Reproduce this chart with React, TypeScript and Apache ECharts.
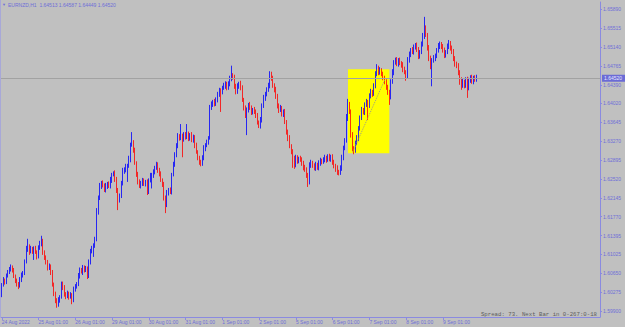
import React, { useEffect, useRef } from "react";
import * as echarts from "echarts";

// ---- data ----
const firstOpen = 1.6025;
const closes = [
  1.6041,1.6051,1.6047,1.6059,1.6067,1.6071,1.6077,1.6071,1.6059,1.6051,
  1.6043,1.6039,1.6051,1.6061,1.6065,1.6087,1.6111,1.6117,1.6107,1.6113,
  1.6109,1.6113,1.6107,1.6097,1.6115,1.6123,1.6129,1.6107,1.6095,1.6087,
  1.6075,1.6079,1.6067,1.6043,1.6023,1.6011,1.6002,1.6011,1.6017,1.6043,
  1.6035,1.6023,1.6019,1.6025,1.6017,1.6021,1.6011,1.6033,1.6037,1.6043,
  1.6059,1.6071,1.6067,1.6075,1.6071,1.6075,1.6059,1.6087,1.6107,1.6115,
  1.6119,1.6131,1.6186,1.6214,1.6238,1.6244,1.6240,1.6230,1.6238,1.6242,
  1.6238,1.6250,1.6260,1.6264,1.6250,1.6230,1.6210,1.6218,1.6242,1.6266,
  1.6270,1.6276,1.6278,1.6290,1.6319,1.6325,1.6309,1.6284,1.6262,1.6246,
  1.6238,1.6244,1.6248,1.6242,1.6246,1.6226,1.6250,1.6258,1.6260,1.6266,
  1.6274,1.6280,1.6270,1.6262,1.6250,1.6242,1.6214,1.6200,1.6224,1.6230,
  1.6226,1.6260,1.6280,1.6300,1.6319,1.6335,1.6333,1.6337,1.6331,1.6339,
  1.6335,1.6341,1.6333,1.6339,1.6329,1.6335,1.6319,1.6306,1.6294,1.6286,
  1.6282,1.6294,1.6313,1.6319,1.6325,1.6333,1.6393,1.6401,1.6405,1.6401,
  1.6409,1.6421,1.6427,1.6425,1.6433,1.6437,1.6441,1.6433,1.6441,1.6451,
  1.6457,1.6453,1.6437,1.6425,1.6437,1.6441,1.6433,1.6409,1.6393,1.6379,
  1.6389,1.6399,1.6393,1.6385,1.6389,1.6385,1.6379,1.6365,1.6357,1.6369,
  1.6397,1.6413,1.6421,1.6429,1.6437,1.6460,1.6453,1.6437,1.6429,1.6417,
  1.6397,1.6389,1.6393,1.6381,1.6385,1.6365,1.6345,1.6333,1.6317,1.6306,
  1.6294,1.6290,1.6294,1.6288,1.6292,1.6290,1.6284,1.6274,1.6270,1.6260,
  1.6246,1.6280,1.6284,1.6278,1.6274,1.6280,1.6274,1.6284,1.6288,1.6286,
  1.6290,1.6294,1.6290,1.6296,1.6292,1.6296,1.6284,1.6278,1.6274,1.6266,
  1.6264,1.6274,1.6294,1.6313,1.6329,1.6373,1.6401,1.6385,1.6339,1.6313,
  1.6309,1.6323,1.6333,1.6353,1.6373,1.6389,1.6385,1.6399,1.6405,1.6397,
  1.6417,1.6425,1.6421,1.6437,1.6460,1.6472,1.6464,1.6468,1.6460,1.6453,
  1.6445,1.6433,1.6425,1.6415,1.6445,1.6464,1.6484,1.6488,1.6480,1.6488,
  1.6482,1.6478,1.6470,1.6464,1.6455,1.6488,1.6500,1.6508,1.6504,1.6514,
  1.6518,1.6508,1.6496,1.6504,1.6520,1.6536,1.6552,1.6538,1.6512,1.6492,
  1.6476,1.6488,1.6492,1.6496,1.6508,1.6516,1.6520,1.6514,1.6508,1.6498,
  1.6504,1.6516,1.6522,1.6512,1.6504,1.6492,1.6480,1.6476,1.6464,1.6449,
  1.6439,1.6445,1.6437,1.6449,1.6433,1.6449,1.6453,1.6445,1.6453,1.6451,1.6452,
];
// wick lengths in pips (0.0001)
const upperWicks = [
  4,6,3,5,4,6,5,3,4,3, 3,4,6,5,4,5,8,16,5,6, 4,5,6,3,5,6,10,4,3,5,
  4,5,3,4,3,5,4,6,4,5, 5,6,4,5,3,6,4,5,6,4, 6,5,4,6,5,4,3,5,6,4,
  5,6,8,5,6,4,5,3,6,4, 5,6,4,3,5,6,4,5,6,8, 5,6,4,8,5,20,4,5,3,4,
  5,4,6,5,4,5,3,6,4,5, 4,6,5,4,5,3,4,5,6,4, 5,4,6,5,4,8,6,24,5,6,
  6,20,5,4,6,5,4,5,3,4, 4,5,6,4,5,4,6,5,4,6, 5,4,6,5,4,6,5,4,5,6,
  20,5,6,4,5,4,6,5,4,5, 5,4,6,5,4,6,5,4,3,6, 5,6,4,5,6,6,5,4,5,6,
  4,5,6,4,5,6,4,5,6,4, 5,4,6,5,4,6,5,4,6,5, 4,5,6,4,5,6,4,5,6,4,
  5,6,4,5,6,4,5,6,4,5, 4,5,6,5,4,8,10,4,5,6, 4,5,6,4,5,6,4,5,6,4,
  5,6,4,5,6,8,5,6,4,5, 4,5,6,4,5,6,4,5,6,4, 5,4,6,5,4,6,5,4,6,5,
  4,5,6,4,5,6,22,5,4,6, 5,4,6,5,4,6,5,4,6,5, 4,5,6,4,5,6,4,5,6,4,
  5,6,4,5,6,4,5,6,4,5,7,
];
const lowerWicks = [
  8,3,5,4,3,4,3,5,4,6, 5,6,3,4,5,4,3,4,6,3, 6,18,4,5,3,4,5,6,4,5,
  5,4,6,5,4,6,6,4,5,3, 4,5,6,4,5,3,8,4,5,3, 4,5,3,6,5,4,6,4,5,3,
  18,4,3,5,4,6,5,4,5,6, 4,5,6,3,4,6,20,5,4,3, 4,5,30,4,5,3,5,4,6,5,
  4,5,6,4,5,6,4,5,25,6, 5,4,6,5,4,6,5,16,4,5, 4,5,3,4,5,6,5,4,36,5,
  5,4,6,5,4,5,6,4,5,6, 5,4,5,6,4,5,3,4,6,5, 4,5,6,40,5,4,6,5,4,5,
  5,4,6,5,4,6,5,4,5,6, 40,5,4,6,5,4,6,5,4,5, 5,4,6,5,4,5,6,4,5,6,
  5,6,4,5,6,4,5,6,4,5, 20,18,15,6,5,4,6,5,4,6, 10,5,6,4,5,6,4,5,6,5,
  4,5,6,4,5,6,4,5,8,6, 5,4,6,5,4,5,6,4,5,6, 8,5,4,6,5,4,5,6,4,28,
  4,5,6,4,5,4,6,5,4,5, 5,4,6,16,5,4,6,5,4,5, 4,5,6,4,8,4,5,6,4,5,
  5,4,6,5,4,5,6,4,5,6, 6,40,5,6,4,5,6,4,5,6, 5,4,6,5,4,6,5,4,6,10,
  10,6,5,4,20,5,6,4,5,6,6,
];
const priceTicks = [
  1.6589, 1.65515, 1.6514, 1.64765, 1.6439, 1.6402, 1.63645, 1.6327, 1.62895,
  1.6252, 1.62145, 1.6177, 1.61395, 1.61025, 1.6065, 1.60275, 1.599,
];
const dayLabels = [
  "24 Aug 2022", "25 Aug 01:00", "26 Aug 01:00", "29 Aug 01:00", "30 Aug 01:00",
  "31 Aug 01:00", "1 Sep 01:00", "2 Sep 01:00", "5 Sep 01:00", "6 Sep 01:00",
  "7 Sep 01:00", "8 Sep 01:00", "9 Sep 01:00",
];
const currentPrice = 1.6452;
const headerText = "EURNZD,H1  1.64513 1.64587 1.64449 1.64520";
const footerText = "Spread: 73. Next Bar in 0-267:0-18";
const boxStart = 226, boxEnd = 253, boxTop = 1.6470, boxBottom = 1.6303;
const trendStart: [number, number] = [229, 1.6305];
const trendEnd: [number, number] = [250, 1.6449];

const PIP = 0.0001;
const BARS_PER_DAY = 24;
const SLOT_COUNT = 391;
const Y_MIN = 1.59776;
const Y_MAX = 1.66035;

const AXIS_TEXT = "#6f6fd8";
const AXIS_LINE = "#8a8ae0";
const FONT = "'Liberation Sans', Arial, sans-serif";

export default function App() {
  const ref = useRef<HTMLDivElement>(null);
  useEffect(() => {
    if (!ref.current) return;
    const chart = echarts.init(ref.current, null, { renderer: "svg" });
    const candles = closes.map((c, i) => {
      const o = i === 0 ? firstOpen : closes[i - 1];
      const h = Math.max(o, c) + upperWicks[i] * PIP;
      const l = Math.min(o, c) - lowerWicks[i] * PIP;
      return [o, c, l, h];
    });
    const slots = Array.from({ length: SLOT_COUNT }, (_, i) => String(i));
    const showDay = (idx: number) =>
      idx % BARS_PER_DAY === 0 && idx / BARS_PER_DAY < dayLabels.length;

    chart.setOption({
      animation: false,
      backgroundColor: "#c0c0c0",
      grid: { left: 1, right: 25, top: 2, bottom: 10, outerBoundsMode: "none", containLabel: false },
      xAxis: {
        type: "category",
        data: slots,
        boundaryGap: true,
        axisLine: { show: true, lineStyle: { color: AXIS_LINE, width: 1 } },
        axisTick: {
          show: true,
          alignWithLabel: true,
          interval: (idx: number) => showDay(idx),
          length: 3,
          lineStyle: { color: AXIS_LINE },
        },
        axisLabel: {
          interval: (idx: number) => showDay(idx),
          formatter: (_v: string, idx: number) => dayLabels[idx / BARS_PER_DAY] ?? "",
          align: "left",
          fontSize: 5,
          fontFamily: FONT,
          color: AXIS_TEXT,
          margin: 2,
        },
        splitLine: { show: false },
      },
      yAxis: {
        type: "value",
        position: "right",
        min: Y_MIN,
        max: Y_MAX,
        axisLine: { show: true, lineStyle: { color: AXIS_LINE, width: 1 } },
        axisTick: { show: true, customValues: priceTicks, length: 2, lineStyle: { color: AXIS_LINE } },
        axisLabel: {
          customValues: priceTicks,
          formatter: (v: number) => v.toFixed(5),
          fontSize: 5,
          fontFamily: FONT,
          color: AXIS_TEXT,
          margin: 3,
        },
        splitLine: { show: false },
      },
      series: [
        {
          type: "candlestick",
          data: candles,
          barWidth: 1.3,
          silent: true,
          z: 2,
          itemStyle: {
            color: "#0000ff",
            color0: "#ff0000",
            borderColor: "#0000ff",
            borderColor0: "#ff0000",
            borderWidth: 0.8,
          },
          markArea: {
            silent: true,
            itemStyle: { color: "#ffff00", opacity: 1 },
            data: [[{ xAxis: boxStart, yAxis: boxTop }, { xAxis: boxEnd, yAxis: boxBottom }]],
          },
          markLine: {
            silent: true,
            precision: 5,
            symbol: ["none", "none"],
            data: [
              {
                yAxis: currentPrice,
                lineStyle: { color: "#a2a2a2", width: 1, type: "solid" },
                label: {
                  show: true,
                  position: "end",
                  distance: 2,
                  formatter: currentPrice.toFixed(5),
                  backgroundColor: "#6b6bd6",
                  color: "#e8e8ff",
                  fontSize: 5,
                  fontFamily: FONT,
                  padding: [1, 3, 1, 2],
                },
              },
              [
                { coord: trendStart, lineStyle: { color: "#9c9c84", width: 1, type: "dotted" }, label: { show: false } },
                { coord: trendEnd },
              ],
            ],
          },
        },
      ],
      graphic: [
        {
          type: "rect",
          shape: { x: 0, y: 0, width: 1, height: 317 },
          style: { fill: "#a8a8d8" },
          silent: true,
        },
        {
          type: "text",
          left: 2,
          top: 2,
          style: { text: "▼", fontSize: 4, fill: AXIS_TEXT, fontFamily: FONT },
          silent: true,
        },
        {
          type: "text",
          left: 8,
          top: 2,
          style: { text: headerText, fontSize: 5, fill: AXIS_TEXT, fontFamily: FONT },
          silent: true,
        },
        {
          type: "text",
          right: 28,
          top: 311,
          style: { text: footerText, fontSize: 5.7, fill: "#5c5c5c", fontFamily: "'Liberation Mono', monospace" },
          silent: true,
        },
      ],
    });
    return () => chart.dispose();
  }, []);
  return (
    <div
      ref={ref}
      style={{ position: "absolute", left: 0, top: 0, width: 625, height: 327 }}
    />
  );
}
